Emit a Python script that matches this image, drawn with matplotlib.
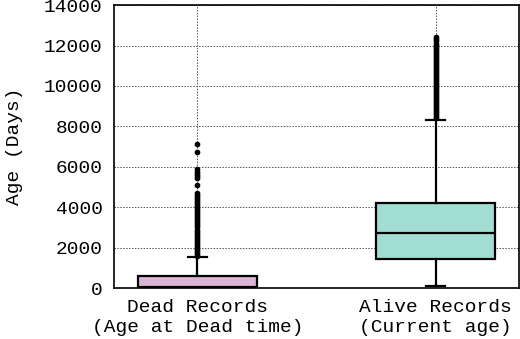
import matplotlib
matplotlib.use('Agg')
import matplotlib.pyplot as plt

labels = ['Dead Records\n(Age at Dead time)', 'Alive Records\n(Current age)']
colors = ['#dcb4d6', '#a2ddd4']

q1 = [0, 1440]
median = [80, 2750]
q3 = [580, 4200]
whislo = [0, 100]
whishi = [1540, 8330]

dead_fliers = [1600, 1700, 1800, 1900, 2000, 2100, 2200, 2300, 2400, 2500,
               2600, 2700, 2800, 2900, 3000, 3100, 3200, 3300, 3400, 3500,
               3600, 3700, 3800, 3900, 4000, 4100, 4200, 4300, 4400, 4500,
               4600, 4700, 5110, 5440, 5550, 5650, 5750, 5890, 6720, 7130]
alive_fliers = [8400, 8500, 8600, 8700, 8800, 8900, 9000, 9100, 9200, 9300,
                9400, 9500, 9600, 9700, 9800, 9900, 10000, 10100, 10200, 10300,
                10400, 10500, 10600, 10700, 10800, 10900, 11000, 11100, 11200,
                11300, 11400, 11500, 11600, 11700, 11800, 11900, 12000, 12100,
                12200, 12300, 12400]
fliers = [dead_fliers, alive_fliers]

plt.rcParams['font.family'] = ['Liberation Mono', 'DejaVu Sans Mono']

stats = []
for i in range(2):
    stats.append({'q1': q1[i], 'med': median[i], 'q3': q3[i],
                  'whislo': whislo[i], 'whishi': whishi[i],
                  'fliers': fliers[i], 'label': labels[i]})

fig = plt.figure(figsize=(5.2, 3.39), dpi=100)
ax = fig.add_axes([0.219, 0.150, 0.779, 0.835])

bp = ax.bxp(stats, positions=[1, 2], widths=0.5, capwidths=0.08,
            patch_artist=True,
            boxprops=dict(linewidth=1.6, edgecolor='black'),
            medianprops=dict(color='black', linewidth=1.6),
            whiskerprops=dict(color='black', linewidth=1.6),
            capprops=dict(color='black', linewidth=1.6),
            flierprops=dict(marker='o', markersize=3.1, markerfacecolor='black',
                            markeredgecolor='black', linestyle='none'))
for patch, c in zip(bp['boxes'], colors):
    patch.set_facecolor(c)

ax.set_xlim(0.65, 2.35)
ax.set_ylim(0, 14000)
ax.set_yticks(range(0, 14001, 2000))
ax.set_ylabel('Age (Days)', fontsize=14, labelpad=15)
ax.tick_params(labelsize=14, length=0, pad=8)
ax.grid(True, linestyle=(0, (1.5, 1.5)), color='#555555', linewidth=0.7)
ax.set_axisbelow(True)
for s in ax.spines.values():
    s.set_linewidth(1.2)

fig.savefig('out.png', dpi=100)
